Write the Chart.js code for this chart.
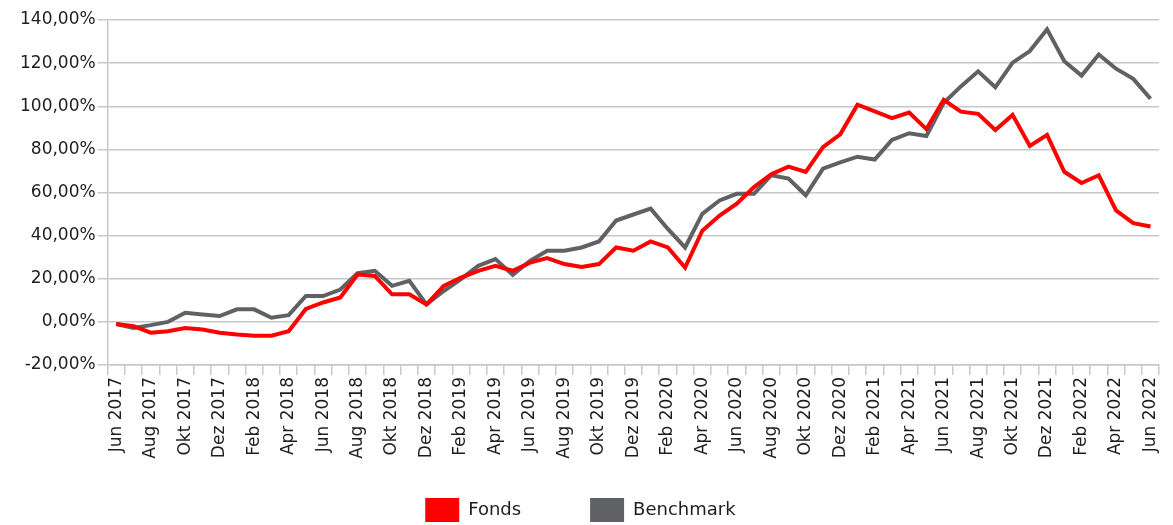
<!DOCTYPE html>
<html>
<head>
<meta charset="utf-8">
<script src="https://cdn.jsdelivr.net/npm/chart.js@4.4.0/dist/chart.umd.min.js"></script>
<style>
  html, body { margin: 0; padding: 0; background: #fff; }
  #wrap { width: 1173px; height: 525px; }
</style>
</head>
<body>
<div id="wrap"><canvas id="perfChart"></canvas></div>
<script>
// monthly labels Jun 2017 - Jun 2022 (only every 2nd one is shown)
const months = ['Jan', 'Feb', 'Mär', 'Apr', 'Mai', 'Jun', 'Jul', 'Aug', 'Sep', 'Okt', 'Nov', 'Dez'];
const labels = [];
for (let i = 0; i <= 60; i++) {
  const m = (5 + i) % 12;
  const y = 2017 + Math.floor((5 + i) / 12);
  labels.push(months[m] + ' ' + y);
}

// values (% since Jun 2017)
const fonds = [
  -1, -2, -5, -4.3, -2.8, -3.5, -5, -5.9, -6.4, -6.4,
  -4.3, 6, 9, 11.3, 22, 21.3, 12.8, 12.8, 8.1, 16.7,
  20.5, 23.7, 26, 23.7, 27.5, 29.6, 26.8, 25.5, 26.8, 34.5,
  33, 37.3, 34.5, 25.2, 42.3, 49.3, 54.8, 62.5, 68.5, 72,
  69.6, 81, 87, 100.7, 97.6, 94.5, 97.1, 89.4, 103, 97.5,
  96.5, 89, 96, 81.6, 86.7, 69.6, 64.4, 68, 51.7, 45.8,
  44.2
];
const benchmark = [
  -1, -2.8, -1.5, 0, 4.2, 3.4, 2.7, 5.8, 5.8, 1.9,
  3.1, 12, 12, 15, 22.6, 23.7, 16.7, 19, 8.1, 14.3,
  19.8, 26, 29.1, 21.8, 28.3, 33, 33, 34.5, 37.3, 47,
  49.8, 52.5, 43.1, 34.5, 50.1, 56.3, 59.4, 59.4, 68, 66.5,
  58.7, 71.1, 74, 76.6, 75.3, 84.4, 87.5, 86.2, 101.5, 109.2,
  116.2, 108.8, 120.2, 125.6, 135.7, 120.9, 114.2, 124, 117.4, 112.7,
  103.5
];

const gridColor = '#c8c8c8';
const textColor = '#1e1e1e';
const font = { family: 'DejaVu Sans', size: 17 };
const nbsp = n => '\u00a0'.repeat(n);

new Chart(document.getElementById('perfChart'), {
  type: 'line',
  data: {
    labels: labels,
    datasets: [
      { label: 'Fonds', data: fonds, borderColor: '#ff0000', backgroundColor: '#ff0000', borderWidth: 4, pointRadius: 0, tension: 0 },
      { label: 'Benchmark', data: benchmark, borderColor: '#606165', backgroundColor: '#606165', borderWidth: 4, pointRadius: 0, tension: 0 }
    ]
  },
  options: {
    responsive: true,
    maintainAspectRatio: false,
    animation: false,
    layout: { padding: { top: 20, right: 13, left: 18, bottom: -7 } },
    plugins: {
      tooltip: { enabled: false },
      legend: {
        position: 'bottom',
        labels: {
          boxWidth: 34,
          boxHeight: 24,
          padding: 6,
          color: textColor,
          font: { family: 'DejaVu Sans', size: 18 },
          // trailing spaces give the wide gap between the two entries
          generateLabels(chart) {
            return chart.data.datasets.map((ds, i) => ({
              text: ds.label + (i === 0 ? nbsp(11) : nbsp(3)),
              fillStyle: ds.borderColor,
              strokeStyle: ds.borderColor,
              lineWidth: 0,
              fontColor: textColor,
              datasetIndex: i
            }));
          }
        }
      }
    },
    scales: {
      x: {
        offset: true,
        afterFit: scale => { scale.height = 127; },
        grid: { offset: true, drawOnChartArea: false, color: gridColor, lineWidth: 1.5, tickLength: 10 },
        border: { color: gridColor, width: 1.5 },
        ticks: {
          autoSkip: false,
          minRotation: 90,
          maxRotation: 90,
          padding: 2,
          color: textColor,
          font: font,
          callback: (v, i) => (i % 2 === 0 ? labels[i] : '')
        }
      },
      y: {
        min: -20,
        max: 140,
        grid: { color: gridColor, lineWidth: 1.5, tickLength: 10 },
        border: { color: gridColor, width: 1.5 },
        ticks: {
          stepSize: 20,
          padding: 2,
          color: textColor,
          font: font,
          callback: v => v.toFixed(2).replace('.', ',') + '%'
        }
      }
    }
  }
});
</script>
</body>
</html>
